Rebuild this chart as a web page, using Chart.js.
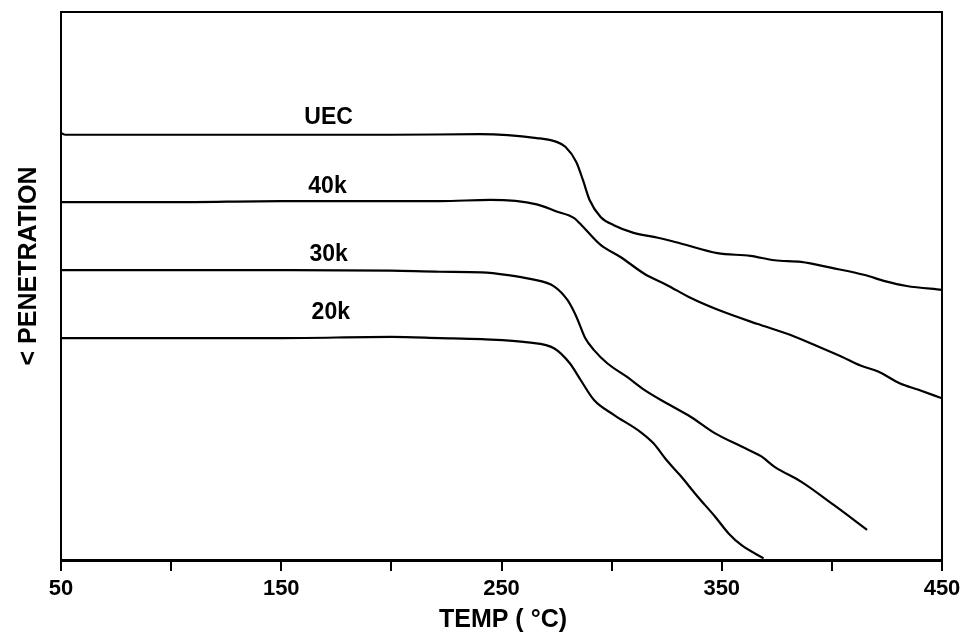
<!DOCTYPE html>
<html>
<head>
<meta charset="utf-8">
<script src="https://cdn.jsdelivr.net/npm/chart.js@4/dist/chart.umd.min.js"></script>
<style>
  html, body { margin: 0; padding: 0; background: #fff; }
  canvas { display: block; }
</style>
</head>
<body>
<canvas id="c" width="970" height="638"></canvas>
<script>
// ---- Data (temperature in °C, relative penetration 0-100) ----
const uecTemps   = [50, 52, 100, 150, 200, 240, 266, 275, 279, 284, 287, 290, 295, 301, 310, 321, 331, 348, 363, 374, 386, 400, 415, 424, 434, 450];
const uecValues  = [77.9, 77.6, 77.6, 77.6, 77.6, 77.7, 77.0, 76.3, 75.4, 72.6, 69.3, 65.7, 62.6, 61.1, 59.7, 58.8, 57.8, 56.0, 55.5, 54.7, 54.4, 53.3, 52.0, 50.9, 50.0, 49.3];

const k40Temps   = [50, 100, 150, 200, 222, 245, 266, 275, 283, 287, 295, 304, 315, 325, 336, 348, 366, 381, 394, 404, 413, 421, 431, 439, 450];
const k40Values  = [65.3, 65.3, 65.5, 65.5, 65.5, 65.7, 64.9, 63.6, 62.4, 60.8, 57.5, 55.3, 52.2, 50.2, 47.8, 45.7, 43.1, 41.1, 38.9, 37.2, 35.5, 34.4, 32.2, 31.1, 29.5];

const k30Temps   = [50, 100, 150, 200, 222, 241, 253, 263, 274, 280, 284, 288, 292, 298, 307, 315, 325, 336, 347, 359, 368, 374, 386, 401, 416];
const k30Values  = [52.9, 52.9, 52.9, 52.8, 52.6, 52.5, 52.0, 51.3, 49.9, 47.4, 44.4, 40.5, 38.3, 35.9, 33.4, 31.0, 28.6, 26.1, 23.1, 20.7, 18.9, 17.0, 14.3, 10.0, 5.5];

const k20Temps   = [50, 100, 150, 200, 222, 241, 262, 274, 281, 286, 292, 301, 313, 319, 325, 331, 339, 347, 353, 359, 369];
const k20Values  = [40.5, 40.5, 40.5, 40.7, 40.5, 40.3, 39.7, 38.6, 35.9, 32.8, 29.2, 26.5, 23.4, 21.3, 18.2, 15.5, 11.6, 7.9, 4.9, 2.7, 0.3];

const seriesNames = ["UEC", "40k", "30k", "20k"];
const labelTemps  = [171.5, 171, 171.5, 172.5];
const labelValues = [80.7, 68.2, 55.7, 45.1];

const xTickLabels = [50, 150, 250, 350, 450];
const xTitle = "TEMP ( °C)";
const yTitle = "< PENETRATION";

const FONT = "'Liberation Sans', Arial, Helvetica, sans-serif";

function pts(xs, ys) { return xs.map((x, i) => ({ x: x, y: ys[i] })); }

const allTemps = [uecTemps, k40Temps, k30Temps, k20Temps];
const allValues = [uecValues, k40Values, k30Values, k20Values];

const datasets = seriesNames.map((name, i) => ({
  label: name,
  data: pts(allTemps[i], allValues[i]),
  borderColor: '#000',
  borderWidth: 2.2,
  pointRadius: 0,
  fill: false,
  cubicInterpolationMode: 'monotone'
}));

const decorations = {
  id: 'decorations',
  afterDraw(chart) {
    const { ctx, chartArea: a, scales: { x, y } } = chart;
    ctx.save();
    // frame (left, top, right)
    ctx.strokeStyle = '#000';
    ctx.lineWidth = 2;
    ctx.beginPath();
    ctx.moveTo(a.left, a.bottom);
    ctx.lineTo(a.left, a.top);
    ctx.lineTo(a.right, a.top);
    ctx.lineTo(a.right, a.bottom);
    ctx.stroke();

    // curve labels
    ctx.fillStyle = '#000';
    ctx.font = 'bold 23px ' + FONT;
    ctx.textAlign = 'center';
    ctx.textBaseline = 'middle';
    seriesNames.forEach((n, i) => {
      ctx.fillText(n, x.getPixelForValue(labelTemps[i]), y.getPixelForValue(labelValues[i]));
    });

    // x title
    ctx.font = 'bold 25px ' + FONT;
    ctx.fillText(xTitle, 503, 620);

    // y title
    ctx.translate(29, 266);
    ctx.rotate(-Math.PI / 2);
    ctx.font = 'bold 25px ' + FONT;
    ctx.fillText(yTitle, 0, 0);
    ctx.restore();
  }
};

new Chart(document.getElementById('c'), {
  type: 'line',
  data: { datasets: datasets },
  options: {
    responsive: false,
    animation: false,
    layout: { padding: { top: 12, right: 28, left: 0, bottom: 0 } },
    plugins: { legend: { display: false }, tooltip: { enabled: false } },
    scales: {
      x: {
        type: 'linear',
        min: 50,
        max: 450,
        ticks: {
          stepSize: 50,
          autoSkip: false,
          maxRotation: 0,
          color: '#000',
          padding: 5,
          font: { family: FONT, size: 22, weight: 'bold' },
          callback: (v) => xTickLabels.includes(v) ? String(v) : ''
        },
        grid: { drawOnChartArea: false, drawTicks: true, tickLength: 11, color: '#000', lineWidth: 2 },
        border: { display: true, color: '#000', width: 3 },
        afterFit: (s) => { s.height = 78; }
      },
      y: {
        type: 'linear',
        min: 0,
        max: 100,
        ticks: { display: false },
        grid: { display: false, drawTicks: false },
        border: { display: false },
        afterFit: (s) => { s.width = 61; }
      }
    }
  },
  plugins: [decorations]
});
</script>
</body>
</html>
